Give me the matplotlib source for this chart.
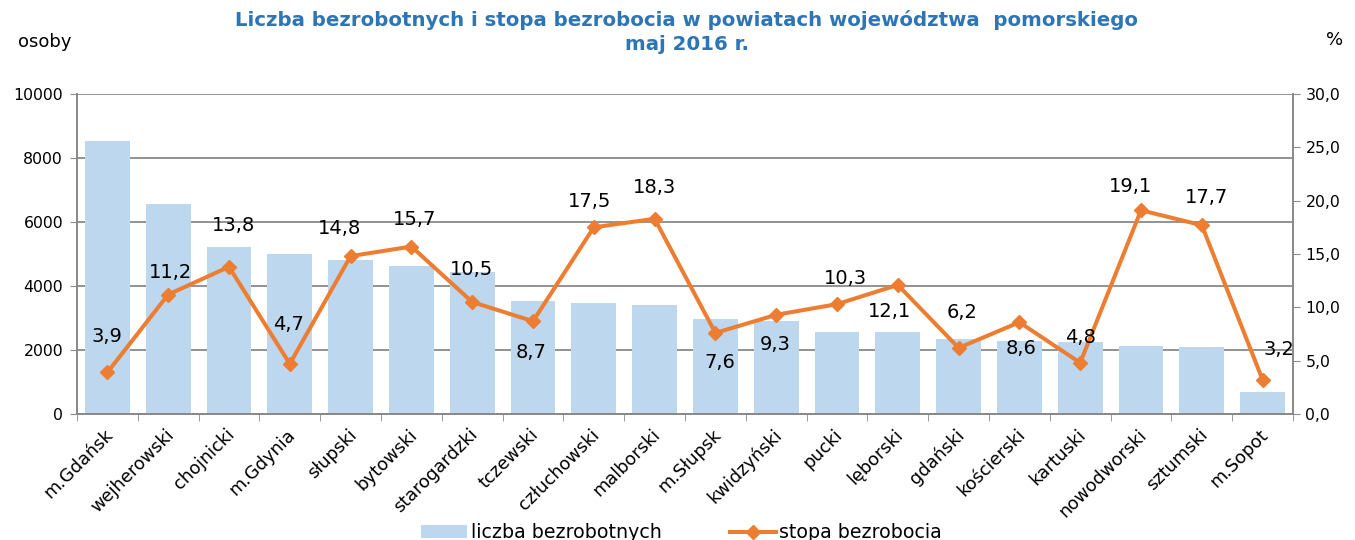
import matplotlib
matplotlib.use("Agg")
import matplotlib.pyplot as plt
from matplotlib.ticker import FuncFormatter
import numpy as np

categories = ["m.Gdańsk", "wejherowski", "chojnicki", "m.Gdynia", "słupski", "bytowski",
              "starogardzki", "tczewski", "człuchowski", "malborski", "m.Słupsk", "kwidzyński",
              "pucki", "lęborski", "gdański", "kościerski", "kartuski", "nowodworski",
              "sztumski", "m.Sopot"]
unemployed = [8530, 6560, 5220, 5000, 4810, 4620, 4440, 3530, 3470, 3400, 2970, 2900,
              2560, 2560, 2340, 2280, 2250, 2130, 2090, 690]
rate = [3.9, 11.2, 13.8, 4.7, 14.8, 15.7, 10.5, 8.7, 17.5, 18.3, 7.6, 9.3,
        10.3, 12.1, 6.2, 8.6, 4.8, 19.1, 17.7, 3.2]

# label offsets from the point, in pixels (style only)
label_dx = [0, 2, 5, -1, -11, 3, -1, -2, -4, 0, 4, -1, 8, -8, 3, 2, 0, -11, 5, 16]
label_dy = [36, 22, 41, 39, 28, 27, 33, -31, 26, 31, -30, -30, 26, -27, 35, -26, 25, 24, 28, 30]

plt.rcParams['font.family'] = ['DejaVu Sans']
fig = plt.figure(figsize=(13.55, 5.4), dpi=100)
ax = fig.add_axes([77 / 1355, 1 - 414 / 540, 1216 / 1355, 320 / 540])
x = np.arange(len(categories))
GRAY = "#8A8A8A"

ax.bar(x, unemployed, width=0.735, color="#BDD7EE", zorder=2, label="liczba bezrobotnych")
ax.set_xlim(-0.5, len(categories) - 0.5)
ax.set_ylim(0, 10000)
ax.set_yticks(range(0, 10001, 2000))
ax.yaxis.grid(True, color=GRAY, linewidth=1.3)
ax.set_axisbelow(True)
ax.tick_params(axis='y', labelsize=11.3, length=5, color=GRAY, pad=5)
ax.set_xticks(x)
ax.set_xticklabels([])
ax.set_xticks(np.arange(-0.5, len(categories), 1), minor=True)
ax.tick_params(axis='x', which='major', length=0)
ax.tick_params(axis='x', which='minor', length=5, color=GRAY)
ax.spines['top'].set_visible(False)
for s in ['left', 'bottom', 'right']:
    ax.spines[s].set_color(GRAY)
    ax.spines[s].set_linewidth(1.3)

for xi, c in zip(x, categories):
    ax.text(xi + 0.05, -560, c, rotation=45, ha='right', va='center',
            rotation_mode='anchor', fontsize=12.8, transform=ax.transData)

ax2 = ax.twinx()
ax2.plot(x, rate, color="#ED7D31", linewidth=2.9, marker='D', markersize=7.5,
         label="stopa bezrobocia", zorder=3)
ax2.set_ylim(0, 30)
ax2.set_yticks(np.arange(0, 30.1, 5))
ax2.yaxis.set_major_formatter(FuncFormatter(lambda v, p: f"{v:.1f}".replace('.', ',')))
ax2.tick_params(axis='y', labelsize=11.3, length=5, color=GRAY, pad=4)
ax2.spines['top'].set_visible(False)
for s in ['left', 'bottom', 'right']:
    ax2.spines[s].set_color(GRAY)
    ax2.spines[s].set_linewidth(1.3)

for xi, r, dx, dy in zip(x, rate, label_dx, label_dy):
    txt = f"{r:.1f}".replace('.', ',')
    ax2.annotate(txt, (xi, r), xytext=(dx * 0.72, dy * 0.72), textcoords='offset points',
                 ha='center', va='center', fontsize=14)

fig.text(0.507, 0.963, "Liczba bezrobotnych i stopa bezrobocia w powiatach województwa  pomorskiego",
         ha='center', va='center', fontsize=14.2, fontweight='bold', color="#2E75B6")
fig.text(0.507, 0.917, "maj 2016 r.", ha='center', va='center', fontsize=14.2,
         fontweight='bold', color="#2E75B6")
fig.text(0.033, 0.922, "osoby", ha='center', va='center', fontsize=13)
fig.text(0.985, 0.926, "%", ha='center', va='center', fontsize=13)

h1, l1 = ax.get_legend_handles_labels()
h2, l2 = ax2.get_legend_handles_labels()
fig.legend(h1 + h2, l1 + l2, loc='center', bbox_to_anchor=(0.503, 0.013), ncol=2,
           frameon=False, fontsize=13.7, columnspacing=3.6, handlelength=2.4,
           handletextpad=0.2)

fig.savefig("out.png", dpi=100)
